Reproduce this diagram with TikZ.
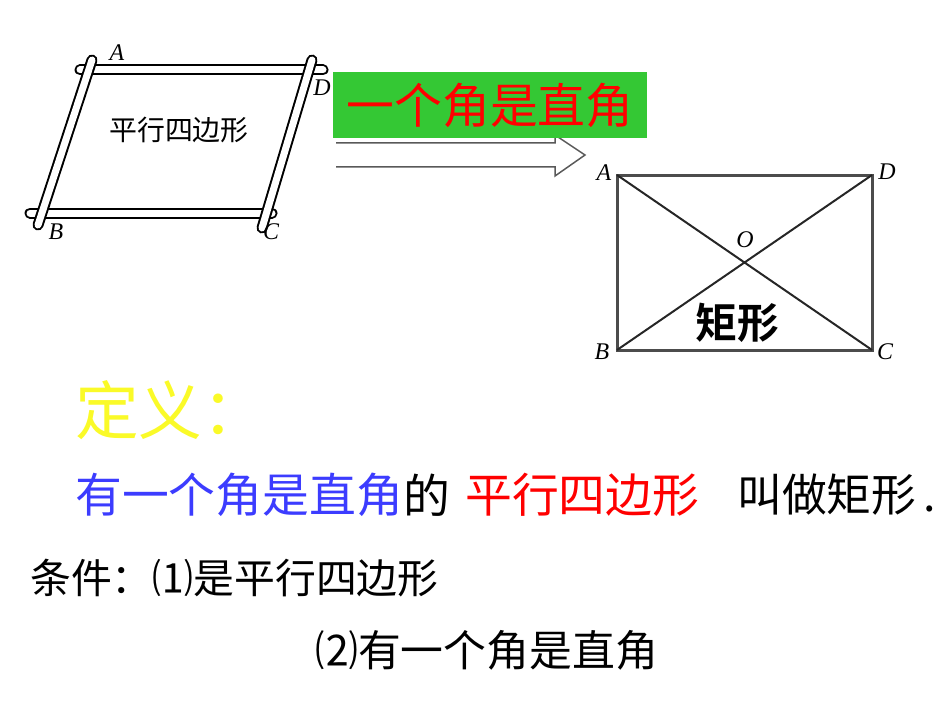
\documentclass[tikz,border=0pt]{standalone}
\usepackage{fontspec}
\setmainfont{Liberation Serif}
\newfontfamily\cjk{Noto Sans CJK SC}
\newfontfamily\cjkb{Noto Sans CJK SC Bold}
\begin{document}
\begin{tikzpicture}[x=1bp,y=-1bp,
  stick/.style={line width=11bp,line cap=round,draw=black},
  stickin/.style={line width=7bp,line cap=round,draw=white},
  lab/.style={font=\itshape\fontsize{24}{24}\selectfont},
  big/.style={anchor=west,inner sep=0,font=\cjk\fontsize{47}{47}\selectfont}]
\useasboundingbox (0,0) rectangle (950,713);
% parallelogram sticks
\coordinate (a1) at (80,70); \coordinate (a2) at (323,70);
\coordinate (b1) at (30,213); \coordinate (b2) at (272,213);
\coordinate (l1) at (92,60); \coordinate (l2) at (38,225);
\coordinate (r1) at (312,60); \coordinate (r2) at (262,228);
\foreach \p/\q in {a1/a2,b1/b2,l1/l2,r1/r2}{\draw[stick] (\p)--(\q); \draw[stickin] (\p)--(\q);}
\node[lab] (pA) at (117,53) {A};
\node[lab] (pD) at (322,88) {D};
\node[lab] (pB) at (56,232) {B};
\node[lab] (pC) at (271,232) {C};
\node[font=\cjk\fontsize{28}{28}\selectfont] (pt) at (179,130) {平行四边形};
% hollow arrow
\draw[gray!70!black,line width=1.5bp] (336,143)--(555,143)--(555,135)--(585,155)--(555,176)--(555,167)--(336,167);
% green box
\node[fill={rgb,255:red,52;green,200;blue,52},minimum width=314bp,minimum height=66bp,inner sep=0,
  text={rgb,255:red,255;green,0;blue,0},font=\cjk\fontsize{48}{48}\selectfont] (g) at (490,105) {一个角是直角};
% rectangle
\coordinate (A) at (617,175); \coordinate (D) at (872,175);
\coordinate (B) at (617,350); \coordinate (C) at (872,350);
\draw[gray!60!black,line width=3bp] (A)--(D)--(C)--(B)--cycle;
\draw[black!85,line width=2bp] (A)--(C) (B)--(D);
\node[lab] (rA) at (604,173) {A};
\node[lab] (rD) at (887,172) {D};
\node[lab] (rB) at (602,352) {B};
\node[lab] (rC) at (885,352) {C};
\node[lab] (rO) at (745,240) {O};
\node[font=\cjkb\fontsize{42}{42}\selectfont] (jx) at (737,323) {矩形};
% definition
\node[anchor=west,inner sep=0,font=\cjk\fontsize{64}{64}\selectfont,text={rgb,255:red,250;green,250;blue,40}] (dy) at (75,410) {定义：};
\node[big,text={rgb,255:red,60;green,60;blue,255}] (l1a) at (75,495) {有一个角是直角};
\node[big] (l1b) at (l1a.east) {的};
\node[big,text=red] (l1c) at (465,495) {平行四边形};
\node[big,font=\cjk\fontsize{45}{45}\selectfont] (l1d) at (737,495) {叫做矩形\,.};
\node[anchor=west,inner sep=0,font=\cjk\fontsize{41}{41}\selectfont] (c1) at (30,578) {条件：⑴是平行四边形};
\node[anchor=west,inner sep=0,font=\cjk\fontsize{43}{43}\selectfont] (c2) at (315,650) {⑵有一个角是直角};
\end{tikzpicture}
\end{document}
